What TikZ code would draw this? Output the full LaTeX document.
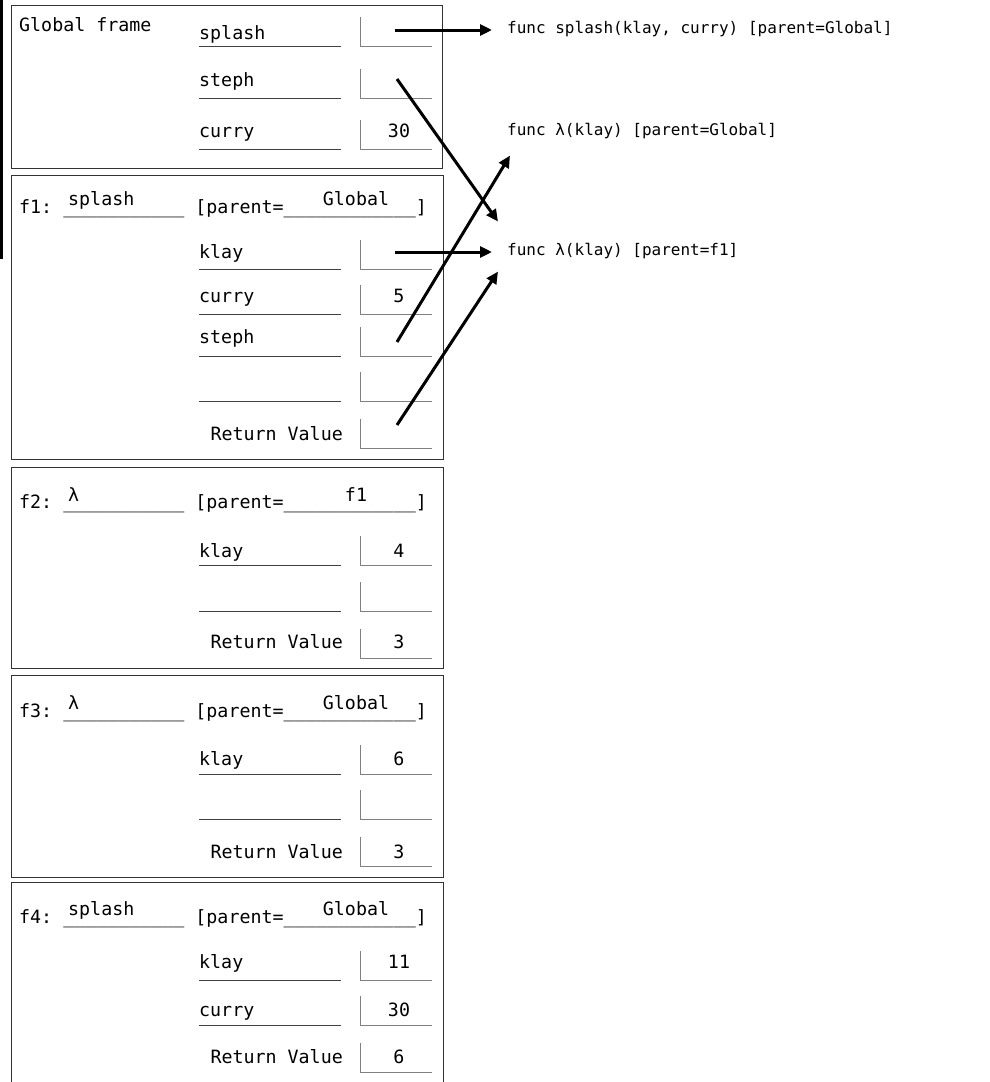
\documentclass[tikz,border=0pt]{standalone}
\usepackage{fontspec}
\usepackage{tikz}
\setmonofont{DejaVu Sans Mono}
\usetikzlibrary{arrows.meta}

\newcommand{\framefont}{\ttfamily\fontsize{18.3}{20}\selectfont}
\newcommand{\funcfont}{\ttfamily\fontsize{16}{18}\selectfont}

% a binding: key, name, underline y, baseline y, value
\newcommand{\binding}[5]{%
    \node[lbl] (#1) at (199,#4) {#2};
    \draw[nameline] (199,#3) -- (341,#3);
    \draw[valbox] (360,#3-29) -- (360,#3) -- (432,#3);
    \node[val] (#1-val) at (399,#4) {#5};
}
% return value row: key, underline y, baseline y, value
\newcommand{\retrow}[4]{%
    \node[lbl, anchor=base east] (#1) at (343,#3) {Return Value};
    \draw[valbox] (360,#2-29) -- (360,#2) -- (432,#2);
    \node[val] (#1-val) at (399,#3) {#4};
}
% frame header: key, label, baseline y, raised y, function, parent
\newcommand{\header}[6]{%
    \node[lbl] (#1) at (19,#3) {#2: \detokenize{___________} [parent=\detokenize{____________}]};
    \node[lbl] (#1-name) at (68,#4) {#5};
    \node[val] (#1-parent) at (356,#4) {#6};
}

\begin{document}
\begin{tikzpicture}[
        x=1pt, y=-1pt,
        lbl/.style={anchor=base west, inner sep=0pt, font=\framefont},
        val/.style={anchor=base, inner sep=0pt, font=\framefont},
        func/.style={anchor=base west, inner sep=0pt, font=\funcfont},
        framebox/.style={draw=black!80, line width=1pt},
        nameline/.style={draw=black!75, line width=1pt},
        valbox/.style={draw=black!50, line width=1pt},
        ptr/.style={-{Triangle[length=12pt, width=11pt]}, line width=3pt}
    ]
        \useasboundingbox (0,0) rectangle (990,1082);
        \fill (0,0) rectangle (3,259);

        % Frames
        \draw[framebox] (11,5) rectangle (442,168);
        \draw[framebox] (11,175) rectangle (443,459);
        \draw[framebox] (11,467) rectangle (443,668);
        \draw[framebox] (11,675) rectangle (443,877);
        \draw[framebox] (11,1082) -- (11,882) -- (443,882) -- (443,1082);

        % Global frame
        \node[lbl] (gtitle) at (19,31) {Global frame};
        \binding{g-splash}{splash}{46}{39}{}
        \binding{g-steph}{steph}{98}{86}{}
        \binding{g-curry}{curry}{149}{137}{30}

        % f1
        \header{f1}{f1}{213}{205}{splash}{Global}
        \binding{f1-klay}{klay}{269}{258}{}
        \binding{f1-curry}{curry}{314}{302}{5}
        \binding{f1-steph}{steph}{356}{343}{}
        \binding{f1-blank}{}{401}{391}{}
        \retrow{f1-ret}{448}{440}{}

        % f2
        \header{f2}{f2}{508}{501}{λ}{f1}
        \binding{f2-klay}{klay}{565}{557}{4}
        \binding{f2-blank}{}{611}{601}{}
        \retrow{f2-ret}{658}{648}{3}

        % f3
        \header{f3}{f3}{717}{709}{λ}{Global}
        \binding{f3-klay}{klay}{774}{765}{6}
        \binding{f3-blank}{}{819}{809}{}
        \retrow{f3-ret}{866}{858}{3}

        % f4
        \header{f4}{f4}{923}{915}{splash}{Global}
        \binding{f4-klay}{klay}{980}{968}{11}
        \binding{f4-curry}{curry}{1025}{1016}{30}
        \retrow{f4-ret}{1072}{1063}{6}

        % Function objects
        \node[func] (fsplash) at (507,33) {func splash(klay, curry) [parent=Global]};
        \node[func] (lamg) at (507,135) {func λ(klay) [parent=Global]};
        \node[func] (lamf) at (507,255) {func λ(klay) [parent=f1]};

        % Pointers
        \coordinate (gsplash-ptr) at (395,30);
        \coordinate (gsteph-ptr) at (397,79);
        \coordinate (f1klay-ptr) at (395,252);
        \coordinate (f1steph-ptr) at (397,342);
        \coordinate (f1ret-ptr) at (397,425);

        \draw[ptr, shorten >=15pt] (gsplash-ptr) -- (gsplash-ptr -| fsplash.west);
        \draw[ptr] (gsteph-ptr) -- ([xshift=-9pt, yshift=29pt]lamf.west);
        \draw[ptr, shorten >=15pt] (f1klay-ptr) -- (f1klay-ptr -| lamf.west);
        \draw[ptr] (f1steph-ptr) -- ([xshift=3pt, yshift=-25pt]lamg.west);
        \draw[ptr] (f1ret-ptr) -- ([xshift=-9pt, yshift=-21pt]lamf.west);

    \end{tikzpicture}
\end{document}
